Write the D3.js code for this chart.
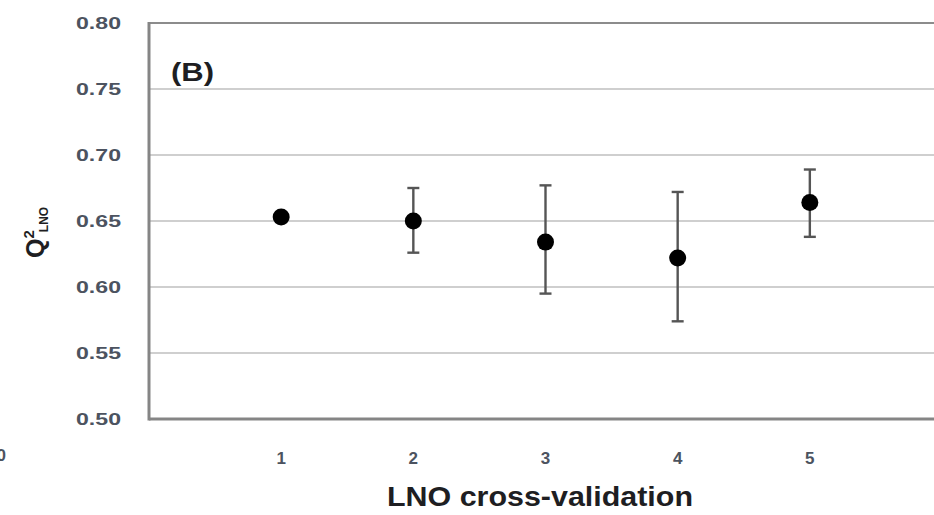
<!DOCTYPE html>
<html>
<head>
<meta charset="utf-8">
<script src="https://cdn.jsdelivr.net/npm/d3@7"></script>
<style>
  html, body { margin: 0; padding: 0; background: #fff; overflow: hidden; }
  svg { display: block; }
</style>
</head>
<body>
<svg id="chart" width="934" height="515"></svg>
<script>
// LNO cross-validation results: mean Q² per fold count with error bars
const folds = [1, 2, 3, 4, 5];
const q2Mean = [0.653, 0.650, 0.634, 0.622, 0.664];
const q2Low  = [0.653, 0.626, 0.595, 0.574, 0.638];
const q2High = [0.653, 0.675, 0.677, 0.672, 0.689];
const yTicks = [0.50, 0.55, 0.60, 0.65, 0.70, 0.75, 0.80];
const xTicks = [1, 2, 3, 4, 5];

const svg = d3.select("#chart");
const plotLeft = 149, plotTop = 23, plotBottom = 419, plotRight = 942;

const x = d3.scaleLinear().domain([0, 6]).range([plotLeft, plotRight]);
const y = d3.scaleLinear().domain([0.50, 0.80]).range([plotBottom, plotTop]);

// horizontal gridlines
svg.append("g")
  .selectAll("line")
  .data(yTicks.filter(d => d > 0.50 && d < 0.80))
  .join("line")
  .attr("x1", plotLeft).attr("x2", plotRight)
  .attr("y1", d => y(d)).attr("y2", d => y(d))
  .attr("stroke", "#cfcfcf").attr("stroke-width", 2.2);

// plot frame (top edge, left axis, bottom axis)
svg.append("line").attr("x1", plotLeft).attr("x2", plotRight).attr("y1", y(0.80)).attr("y2", y(0.80))
  .attr("stroke", "#8c8c8c").attr("stroke-width", 2.2);
svg.append("line").attr("x1", plotLeft).attr("x2", plotRight).attr("y1", y(0.50)).attr("y2", y(0.50))
  .attr("stroke", "#858585").attr("stroke-width", 2.8);
svg.append("line").attr("x1", plotLeft).attr("x2", plotLeft).attr("y1", y(0.80) - 1).attr("y2", y(0.50) + 1.4)
  .attr("stroke", "#858585").attr("stroke-width", 3);

// y tick labels
svg.append("g")
  .selectAll("text")
  .data(yTicks)
  .join("text")
  .attr("x", 121).attr("y", d => y(d) + 6)
  .attr("text-anchor", "end")
  .attr("font-family", "Liberation Sans, Arial, sans-serif")
  .attr("font-size", 17)
  .attr("font-weight", 600)
  .attr("fill", "#4c5360")
  .attr("textLength", 45).attr("lengthAdjust", "spacingAndGlyphs")
  .text(d => d3.format(".2f")(d));

// x tick labels
svg.append("g")
  .selectAll("text")
  .data(xTicks)
  .join("text")
  .attr("x", d => x(d)).attr("y", 464)
  .attr("text-anchor", "middle")
  .attr("font-family", "Liberation Sans, Arial, sans-serif")
  .attr("font-size", 17)
  .attr("font-weight", 600)
  .attr("fill", "#4c5360")
  .text(d => d);

// edge of the neighbouring panel's axis label
svg.append("text").attr("x", 6).attr("y", 461).attr("text-anchor", "end")
  .attr("font-family", "Liberation Sans, Arial, sans-serif").attr("font-size", 17)
  .attr("font-weight", 600)
  .attr("fill", "#4c5360").text("0");

// error bars
const bars = svg.append("g").selectAll("g")
  .data(folds.map((f, i) => ({ f, lo: q2Low[i], hi: q2High[i] })).filter(d => d.hi > d.lo))
  .join("g")
  .attr("stroke", "#555").attr("stroke-width", 2.4);
bars.append("line")
  .attr("x1", d => x(d.f)).attr("x2", d => x(d.f))
  .attr("y1", d => y(d.hi)).attr("y2", d => y(d.lo));
bars.append("line")
  .attr("x1", d => x(d.f) - 6).attr("x2", d => x(d.f) + 6)
  .attr("y1", d => y(d.hi)).attr("y2", d => y(d.hi));
bars.append("line")
  .attr("x1", d => x(d.f) - 6).attr("x2", d => x(d.f) + 6)
  .attr("y1", d => y(d.lo)).attr("y2", d => y(d.lo));

// mean markers
svg.append("g")
  .selectAll("circle")
  .data(folds.map((f, i) => ({ f, v: q2Mean[i] })))
  .join("circle")
  .attr("cx", d => x(d.f)).attr("cy", d => y(d.v))
  .attr("r", 8.5)
  .attr("fill", "#000");

// panel tag
svg.append("text")
  .attr("x", 171).attr("y", 81)
  .attr("font-family", "Liberation Sans, Arial, sans-serif")
  .attr("font-weight", "bold").attr("font-size", 25)
  .attr("fill", "#1e1e22")
  .attr("textLength", 43).attr("lengthAdjust", "spacingAndGlyphs")
  .text("(B)");

// x axis title
svg.append("text")
  .attr("x", 540).attr("y", 506)
  .attr("text-anchor", "middle")
  .attr("font-family", "Liberation Sans, Arial, sans-serif")
  .attr("font-weight", "bold").attr("font-size", 28)
  .attr("fill", "#1e1e22")
  .attr("textLength", 306).attr("lengthAdjust", "spacingAndGlyphs")
  .text("LNO cross-validation");

// y axis title: Q²(LNO)
const yt = svg.append("text")
  .attr("transform", "translate(44,258) rotate(-90)")
  .attr("font-family", "Liberation Sans, Arial, sans-serif")
  .attr("font-weight", "bold")
  .attr("fill", "#1e1e22");
yt.append("tspan").attr("font-size", 25).text("Q");
yt.append("tspan").attr("font-size", 15).attr("dy", -10).text("2");
yt.append("tspan").attr("font-size", 12).attr("dy", 14).attr("dx", -2).text("LNO");
</script>
</body>
</html>
